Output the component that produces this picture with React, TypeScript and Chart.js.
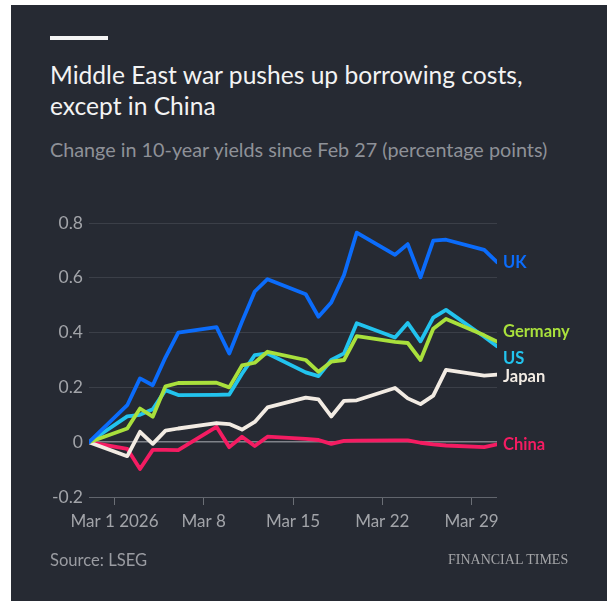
import React, { useEffect, useRef } from "react";
import { Chart, registerables } from "chart.js";

Chart.register(...registerables);

// Trading days (days since Feb 27 2026)
const dates = ["Feb 27", "Mar 2", "Mar 3", "Mar 4", "Mar 5", "Mar 6", "Mar 9", "Mar 10", "Mar 11", "Mar 12", "Mar 13", "Mar 16", "Mar 17", "Mar 18", "Mar 19", "Mar 20", "Mar 23", "Mar 24", "Mar 25", "Mar 26", "Mar 27", "Mar 30", "Mar 31"];
const dayOffsets = [0, 3, 4, 5, 6, 7, 10, 11, 12, 13, 14, 17, 18, 19, 20, 21, 24, 25, 26, 27, 28, 31, 32];

const uk = [0, 0.135, 0.233, 0.208, 0.31, 0.4, 0.42, 0.324, 0.44, 0.55, 0.595, 0.54, 0.458, 0.51, 0.61, 0.765, 0.684, 0.723, 0.602, 0.736, 0.739, 0.702, 0.657];
const germany = [0, 0.05, 0.123, 0.093, 0.204, 0.216, 0.217, 0.2, 0.28, 0.29, 0.33, 0.3, 0.257, 0.294, 0.3, 0.387, 0.366, 0.362, 0.3, 0.414, 0.45, 0.39, 0.367];
const us = [0, 0.094, 0.1, 0.12, 0.19, 0.172, 0.173, 0.174, 0.25, 0.318, 0.324, 0.255, 0.241, 0.3, 0.324, 0.434, 0.382, 0.435, 0.368, 0.455, 0.483, 0.385, 0.35];
const japan = [0, -0.051, 0.038, -0.006, 0.042, 0.05, 0.07, 0.066, 0.046, 0.074, 0.127, 0.163, 0.156, 0.094, 0.151, 0.153, 0.198, 0.16, 0.139, 0.17, 0.264, 0.243, 0.247];
const china = [0, -0.024, -0.098, -0.028, -0.028, -0.029, 0.056, -0.018, 0.02, -0.014, 0.02, 0.012, 0.008, -0.006, 0.005, 0.006, 0.007, 0.007, -0.002, -0.008, -0.012, -0.018, -0.008];

const seriesNames = ["UK", "Germany", "US", "Japan", "China"];
const seriesValues = [uk, germany, us, japan, china];
const seriesColors = ["#0b6cfb", "#a9e03c", "#22c3ee", "#f2ebe3", "#f41c62"];
// vertical nudges (px) for end labels to avoid overlap
const labelNudge = [0, -10, 12, 2, 0];

const xTickDays = [2, 9, 16, 23, 30];
const xTickLabels = ["Mar 1 2026", "Mar 8", "Mar 15", "Mar 22", "Mar 29"];
const yTicks = [-0.2, 0, 0.2, 0.4, 0.6, 0.8];

const FONT = "Lato, 'Noto Sans', sans-serif";

export default function App() {
  const ref = useRef<HTMLCanvasElement | null>(null);

  useEffect(() => {
    if (!ref.current) return;
    const endLabels = {
      id: "endLabels",
      afterDatasetsDraw(chart: any) {
        const ctx = chart.ctx;
        ctx.save();
        ctx.font = `bold 16.5px ${FONT}`;
        ctx.textBaseline = "middle";
        ctx.textAlign = "left";
        chart.data.datasets.forEach((ds: any, i: number) => {
          const meta = chart.getDatasetMeta(i);
          const pt = meta.data[meta.data.length - 1];
          ctx.fillStyle = ds.borderColor;
          ctx.fillText(seriesNames[i], chart.chartArea.right + 6, pt.y + labelNudge[i]);
        });
        ctx.restore();
      },
    };

    const chart = new Chart(ref.current, {
      type: "line",
      data: {
        datasets: seriesNames.map((name, i) => ({
          label: name,
          data: seriesValues[i].map((v, j) => ({ x: dayOffsets[j], y: v })),
          borderColor: seriesColors[i],
          backgroundColor: seriesColors[i],
          borderWidth: 3.8,
          pointRadius: 0,
          tension: 0,
          borderJoinStyle: "round" as const,
          borderCapStyle: "round" as const,
        })),
      },
      options: {
        animation: false,
        responsive: false,
        devicePixelRatio: 1,
        layout: { padding: { top: 218, right: 110, bottom: 64, left: 0 } },
        plugins: { legend: { display: false }, tooltip: { enabled: false }, title: { display: false } },
        scales: {
          x: {
            type: "linear",
            min: 0,
            max: 32,
            afterBuildTicks: (scale: any) => {
              scale.ticks = xTickDays.map((v) => ({ value: v }));
            },
            afterFit: (scale: any) => {
              scale.height = 40;
            },
            ticks: {
              autoSkip: false,
              maxRotation: 0,
              padding: 6,
              color: "#a2a4a9",
              font: { family: FONT, size: 17 },
              callback: (v: any) => {
                const idx = xTickDays.indexOf(Number(v));
                return idx >= 0 ? xTickLabels[idx] : "";
              },
            },
            grid: { drawOnChartArea: false, drawTicks: true, tickLength: 8, color: "#6b6f76", lineWidth: 1 },
            border: { display: false },
          },
          y: {
            min: -0.2,
            max: 0.8,
            afterBuildTicks: (scale: any) => {
              scale.ticks = yTicks.map((v) => ({ value: v }));
            },
            afterFit: (scale: any) => {
              scale.width = 78;
            },
            ticks: {
              padding: 6,
              color: "#a2a4a9",
              font: { family: FONT, size: 17.5 },
              callback: (v: any) => (Number(v) === 0 ? "0" : Number(v).toFixed(1)),
            },
            grid: {
              drawTicks: false,
              color: (c: any) => {
                const v = c.tick ? c.tick.value : null;
                if (v === 0) return "#7f8289";
                if (v !== null && Math.abs(v + 0.2) < 1e-9) return "#61656d";
                return "#3b3f48";
              },
              lineWidth: (c: any) => (c.tick && c.tick.value === 0 ? 1.5 : 1),
            },
            border: { display: false },
          },
        },
      },
      plugins: [endLabels],
    });
    return () => chart.destroy();
  }, []);

  return (
    <div
      style={{
        position: "absolute",
        left: 11,
        top: 5,
        width: 596,
        height: 596,
        background: "#262a33",
        overflow: "hidden",
        fontFamily: FONT,
      }}
    >
      <div style={{ position: "absolute", left: 39, top: 31, width: 58, height: 3.5, background: "#f4f4f4" }} />
      <div
        style={{
          position: "absolute",
          left: 39,
          top: 54,
          width: 570,
          color: "#f3f3f3",
          fontSize: 24.6,
          lineHeight: "31px",
          whiteSpace: "nowrap",
        }}
      >
        Middle East war pushes up borrowing costs,
        <br />
        except in China
      </div>
      <div
        style={{
          position: "absolute",
          left: 39,
          top: 133,
          color: "#8e9198",
          fontSize: 19.8,
          lineHeight: "22px",
          whiteSpace: "nowrap",
        }}
      >
        Change in 10-year yields since Feb 27 (percentage points)
      </div>
      <canvas ref={ref} width={596} height={596} style={{ position: "absolute", left: 0, top: 0, width: 596, height: 596 }} />
      <div
        style={{
          position: "absolute",
          left: 39,
          top: 545,
          color: "#9a9ca2",
          fontSize: 16.6,
          lineHeight: "20px",
        }}
      >
        Source: LSEG
      </div>
      <div
        style={{
          position: "absolute",
          left: 437,
          top: 545,
          color: "#a4a5a8",
          fontSize: 14,
          lineHeight: "20px",
          fontFamily: "'Liberation Serif', 'DejaVu Serif', serif",
          whiteSpace: "nowrap",
        }}
      >
        FINANCIAL TIMES
      </div>
    </div>
  );
}
